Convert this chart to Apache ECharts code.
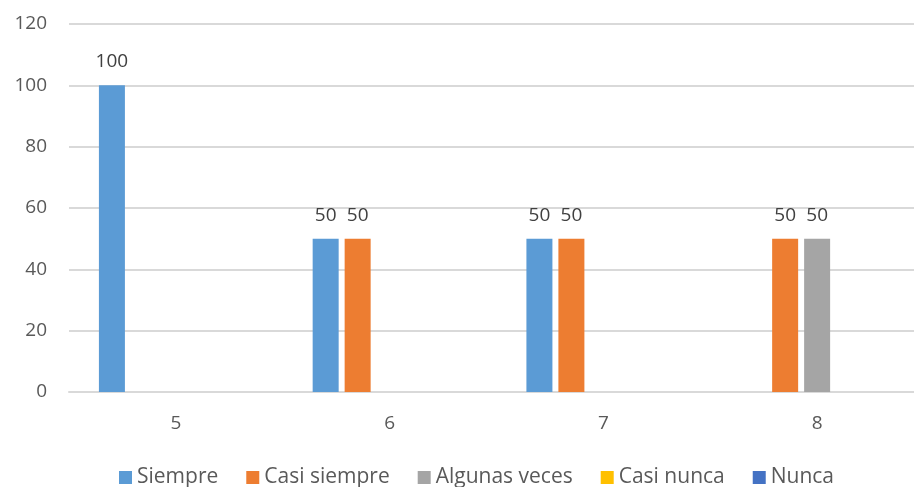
<!DOCTYPE html>
<html>
<head>
<meta charset="utf-8">
<script src="https://cdn.jsdelivr.net/npm/echarts@6/dist/echarts.min.js"></script>
<style>
  html, body { margin: 0; padding: 0; background: #fff; }
  #chart { width: 914px; height: 487px; }
</style>
</head>
<body>
<div id="chart"></div>
<script>
// Categories and per-answer percentages
const categories = ['5', '6', '7', '8'];
const siempre = [100, 50, 50, 0];
const casiSiempre = [0, 50, 50, 50];
const algunasVeces = [0, 0, 0, 50];
const casiNunca = [0, 0, 0, 0];
const nunca = [0, 0, 0, 0];

const seriesDefs = [
  { name: 'Siempre', data: siempre, color: '#5B9BD5' },
  { name: 'Casi siempre', data: casiSiempre, color: '#ED7D31' },
  { name: 'Algunas veces', data: algunasVeces, color: '#A5A5A5' },
  { name: 'Casi nunca', data: casiNunca, color: '#FFC000' },
  { name: 'Nunca', data: nunca, color: '#4472C4' }
];

const font = '"Open Sans", "Liberation Sans", sans-serif';
const textColor = '#595959';

const chart = echarts.init(document.getElementById('chart'));
chart.setOption({
  animation: false,
  grid: { left: 69, width: 855, top: 24, height: 368, outerBoundsMode: 'none' },
  legend: {
    bottom: -6,
    left: 114,
    itemWidth: 13,
    itemHeight: 13,
    itemGap: 28,
    icon: 'rect',
    textStyle: { fontFamily: font, fontSize: 21, color: textColor },
    data: seriesDefs.map(s => s.name)
  },
  xAxis: {
    type: 'category',
    data: categories,
    axisLine: { lineStyle: { color: '#d9d9d9', width: 2 } },
    axisTick: { show: false },
    axisLabel: { fontFamily: font, fontSize: 19, color: textColor, margin: 22 }
  },
  yAxis: {
    type: 'value',
    min: 0,
    max: 120,
    interval: 20,
    axisLine: { show: false },
    axisTick: { show: false },
    splitLine: { lineStyle: { color: '#d9d9d9', width: 2 } },
    axisLabel: { fontFamily: font, fontSize: 19, color: textColor, margin: 22 }
  },
  series: seriesDefs.map(s => ({
    name: s.name,
    type: 'bar',
    data: s.data,
    barWidth: 26,
    barGap: '23%',
    itemStyle: { color: s.color },
    label: {
      show: true,
      position: 'top',
      distance: 14,
      fontFamily: font,
      fontSize: 19,
      color: '#404040',
      formatter: p => (p.value ? String(p.value) : '')
    }
  }))
});
</script>
</body>
</html>
